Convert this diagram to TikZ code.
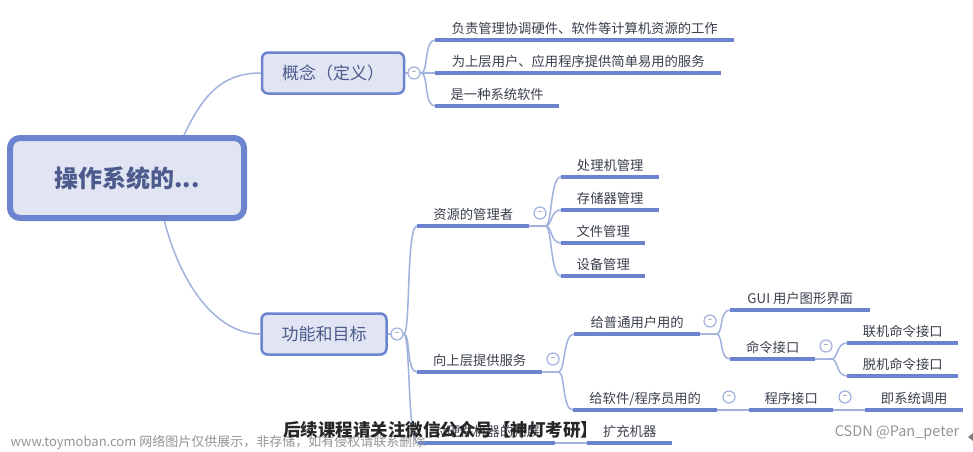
\documentclass[tikz,border=0pt]{standalone}
\usepackage{fontspec}
\setmainfont{Noto Sans CJK SC}
\definecolor{framec}{HTML}{6C83D0}
\definecolor{fillc}{HTML}{E1E5F3}
\definecolor{branchc}{HTML}{A0B1DE}
\definecolor{rootc}{HTML}{4C5B8C}
\definecolor{textc}{HTML}{3A3F4C}
\tikzset{
  rootbox/.style={draw=framec,line width=6pt,fill=fillc,rounded corners=10pt,minimum width=234pt,minimum height=80pt,font=\bfseries\fontsize{24}{24}\selectfont,text=rootc},
  topicbox/.style={draw=framec,line width=2.5pt,fill=fillc,rounded corners=6pt,minimum height=41pt,font=\fontsize{17}{17}\selectfont,text=rootc},
  leaf/.style={anchor=south west,inner xsep=0pt,inner ysep=4pt,text height=10pt,text depth=2pt,font=\fontsize{13.3}{13.3}\selectfont,text=textc,align=center},
  uline/.style={draw=framec,line width=3.2pt},
  branch/.style={draw=branchc,line width=1.5pt},
  toggle/.style={circle,draw=branchc,line width=1.2pt,fill=white,inner sep=0pt,minimum size=12pt,font=\fontsize{8}{8}\selectfont,text=rootc},
  notice/.style={font=\bfseries\fontsize{17.5}{17.5}\selectfont,text=black!85},
  credit/.style={font=\fontsize{13}{13}\selectfont,text=black!42}
}
\begin{document}
\begin{tikzpicture}[x=1pt,y=-1pt]
  \useasboundingbox (0,0) rectangle (973,451);
  \node[rootbox] (root) at (127,178) {操作系统的...};
  \node[topicbox,minimum width=142pt] (concept) at (333,73) {概念（定义）};
  \node[topicbox,minimum width=125pt] (func) at (324,334) {功能和目标};
  % first branch
  \node[leaf,minimum width=299pt] (defa) at (435,40) {负责管理协调硬件、软件等计算机资源的工作};
  \node[leaf,minimum width=286pt] (defb) at (435,73) {为上层用户、应用程序提供简单易用的服务};
  \node[leaf,minimum width=124pt] (defc) at (435,106) {是一种系统软件};
  % second branch
  \node[leaf,minimum width=112pt] (res) at (417,226) {资源的管理者};
  \node[leaf,minimum width=98pt] (cpu) at (561,177) {处理机管理};
  \node[leaf,minimum width=98pt] (mem) at (561,210) {存储器管理};
  \node[leaf,minimum width=84pt] (file) at (561,243) {文件管理};
  \node[leaf,minimum width=84pt] (dev) at (561,276) {设备管理};
  \node[leaf,minimum width=125pt] (serv) at (417,372) {向上层提供服务};
  \node[leaf,minimum width=126pt] (user) at (574,334) {给普通用户用的};
  \node[leaf,minimum width=140pt] (gui) at (730,310) {GUI 用户图形界面};
  \node[leaf,minimum width=85pt] (cmd) at (730,359) {命令接口};
  \node[leaf,minimum width=111pt] (online) at (847,343) {联机命令接口};
  \node[leaf,minimum width=111pt] (offline) at (847,376) {脱机命令接口};
  \node[leaf,minimum width=144pt] (soft) at (573,410) {给软件/程序员用的};
  \node[leaf,minimum width=84pt] (prog) at (749,410) {程序接口};
  \node[leaf,minimum width=98pt] (call) at (865,410) {即系统调用};
  \node[leaf,minimum width=137pt] (ext) at (418,443) {对硬件机器的拓展};
  \node[leaf,minimum width=85pt] (mach) at (587,443) {扩充机器};
  % connectors
  \draw[branch] (root.37) .. controls +(18,-38) and +(-40,0) .. (concept.west);
  \draw[branch] (root.-49) .. controls +(16,62) and +(-45,0) .. (func.west);
  \foreach \a/\b in {concept.east/defa,concept.east/defb,concept.east/defc,func.east/res,func.east/serv,func.east/ext,
    res.south east/cpu,res.south east/mem,res.south east/file,res.south east/dev,
    serv.south east/user,serv.south east/soft,user.south east/gui,user.south east/cmd,
    cmd.south east/online,cmd.south east/offline}
    \draw[branch] (\a) -- ++(16,0) .. controls +(7,0) and +(-11,0) .. (\b.south west);
  \draw[branch] (soft.south east) -- (prog.south west);
  \draw[branch] (prog.south east) -- (call.south west);
  \draw[branch] (ext.south east) -- (mach.south west);
  \foreach \a in {defa,defb,defc,res,cpu,mem,file,dev,serv,user,gui,cmd,online,offline,soft,prog,call,ext,mach}
    \draw[uline] (\a.south west) -- (\a.south east);
  % toggles
  \foreach \n/\x/\y in {ta/414/73,tb/397/334,tc/540/213,td/553/359,te/710/321,tf/826/346,tg/729/397,th/845/397}
    \node[toggle] (\n) at (\x,\y) {--};
  % overlays
  \node[credit] (site) at (218,442) {www.toymoban.com 网络图片仅供展示，非存储，如有侵权请联系删除};
  \node[notice] (follow) at (440.5,430) {后续课程请关注微信公众号【神灯考研】};
  \node[credit,font=\fontsize{14.5}{14.5}\selectfont] (csdn) at (897,433) {CSDN @Pan\_peter};
  \fill[black!50] (968,437) -- (973,433) -- (973,441) -- cycle;
\end{tikzpicture}
\end{document}
